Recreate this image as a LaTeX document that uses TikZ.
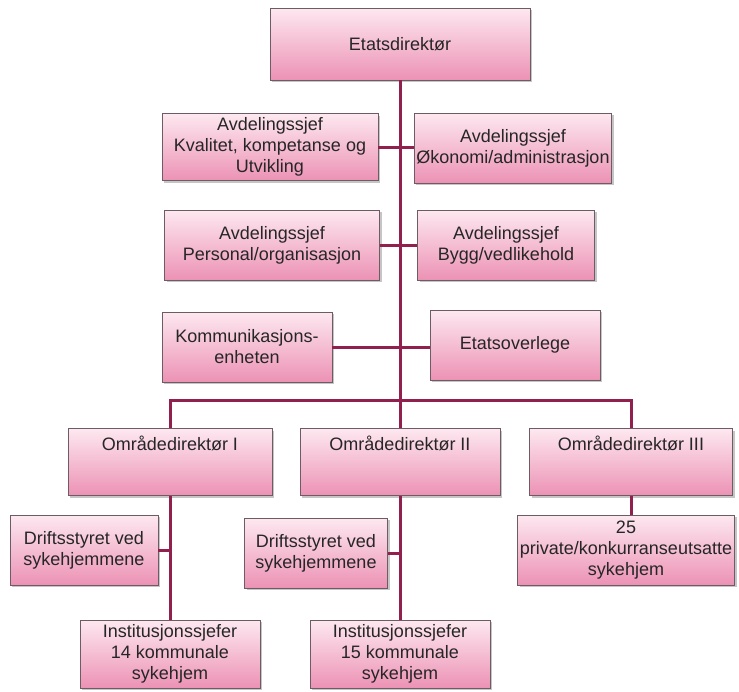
\documentclass[tikz,border=0pt]{standalone}
\usepackage{fontspec}
\setmainfont{Liberation Sans}
\usetikzlibrary{shadows}

\definecolor{rosatopp}{RGB}{253,232,240}
\definecolor{rosabunn}{RGB}{236,146,180}
\definecolor{kant}{RGB}{110,92,100}
\definecolor{strek}{RGB}{145,32,78}

\begin{document}
\begin{tikzpicture}[
    x=1pt, y=-1pt,
    boks/.style={rectangle, draw=kant, line width=0.6pt, top color=rosatopp, bottom color=rosabunn,
        drop shadow={shadow xshift=2pt, shadow yshift=-2pt, fill=black!45, opacity=0.5},
        align=center, inner sep=2pt, font=\fontsize{18}{21}\selectfont, text=black!85},
    toppboks/.style={boks, text height=13pt, text depth=36pt, inner sep=9pt},
    linje/.style={draw=strek, line width=3pt}
]
\useasboundingbox (0,0) rectangle (739,691);

% Ledelse
\node[boks, minimum width=260pt, minimum height=72pt] (etat) at (400,44) {Etatsdirektør};

% Avdelingssjefer
\node[boks, minimum width=216pt, minimum height=67pt] (kval) at (270,147) {Avdelingssjef\\Kvalitet, kompetanse og\\Utvikling};
\node[boks, minimum width=197pt, minimum height=70pt] (okon) at (513,148) {Avdelingssjef\\Økonomi/administrasjon};
\node[boks, minimum width=215pt, minimum height=70pt] (pers) at (272,245) {Avdelingssjef\\Personal/organisasjon};
\node[boks, minimum width=177pt, minimum height=70pt] (bygg) at (506,245) {Avdelingssjef\\Bygg/vedlikehold};

% Stab
\node[boks, minimum width=170pt, minimum height=70pt] (komm) at (247,347) {Kommunikasjons-\\enheten};
\node[boks, minimum width=170pt, minimum height=70pt] (overl) at (515,345) {Etatsoverlege};

% Områdedirektører
\node[toppboks, minimum width=204pt] (omr1) at (170,462) {Områdedirektør I};
\node[toppboks, minimum width=200pt] (omr2) at (400,462) {Områdedirektør II};
\node[toppboks, minimum width=203pt] (omr3) at (631,462) {Områdedirektør III};

% Driftsstyrer og sykehjem
\node[boks, minimum width=148pt, minimum height=70pt] (drift1) at (84,550) {Driftsstyret ved\\sykehjemmene};
\node[boks, minimum width=143pt, minimum height=70pt] (drift2) at (316,553) {Driftsstyret ved\\sykehjemmene};
\node[boks, minimum width=217pt, minimum height=70pt] (priv) at (626,550) {25\\private/konkurranseutsatte\\sykehjem};
\node[boks, minimum width=180pt, minimum height=68pt] (inst1) at (170,654) {Institusjonssjefer\\14 kommunale\\sykehjem};
\node[boks, minimum width=180pt, minimum height=68pt] (inst2) at (400,654) {Institusjonssjefer\\15 kommunale\\sykehjem};

\coordinate (skinne) at (400,400);

% Linjer
\draw[linje] (etat.south) -- (skinne);
\draw[linje] (kval.east) -- (kval.east -| okon.west);
\draw[linje] (pers.east) -- (pers.east -| bygg.west);
\draw[linje] (komm.east) -- (komm.east -| overl.west);
\draw[linje] (omr1.north) |- (skinne) -| (omr3.north);
\draw[linje] (skinne) -- (omr2.north);
\draw[linje] (omr1.south) -- (inst1.north);
\draw[linje] (omr2.south) -- (inst2.north);
\draw[linje] (omr3.south) -- (omr3.south |- priv.north);
\draw[linje] (drift1.east) -- (drift1.east -| omr1.south);
\draw[linje] (drift2.east) -- (drift2.east -| omr2.south);

\end{tikzpicture}
\end{document}
